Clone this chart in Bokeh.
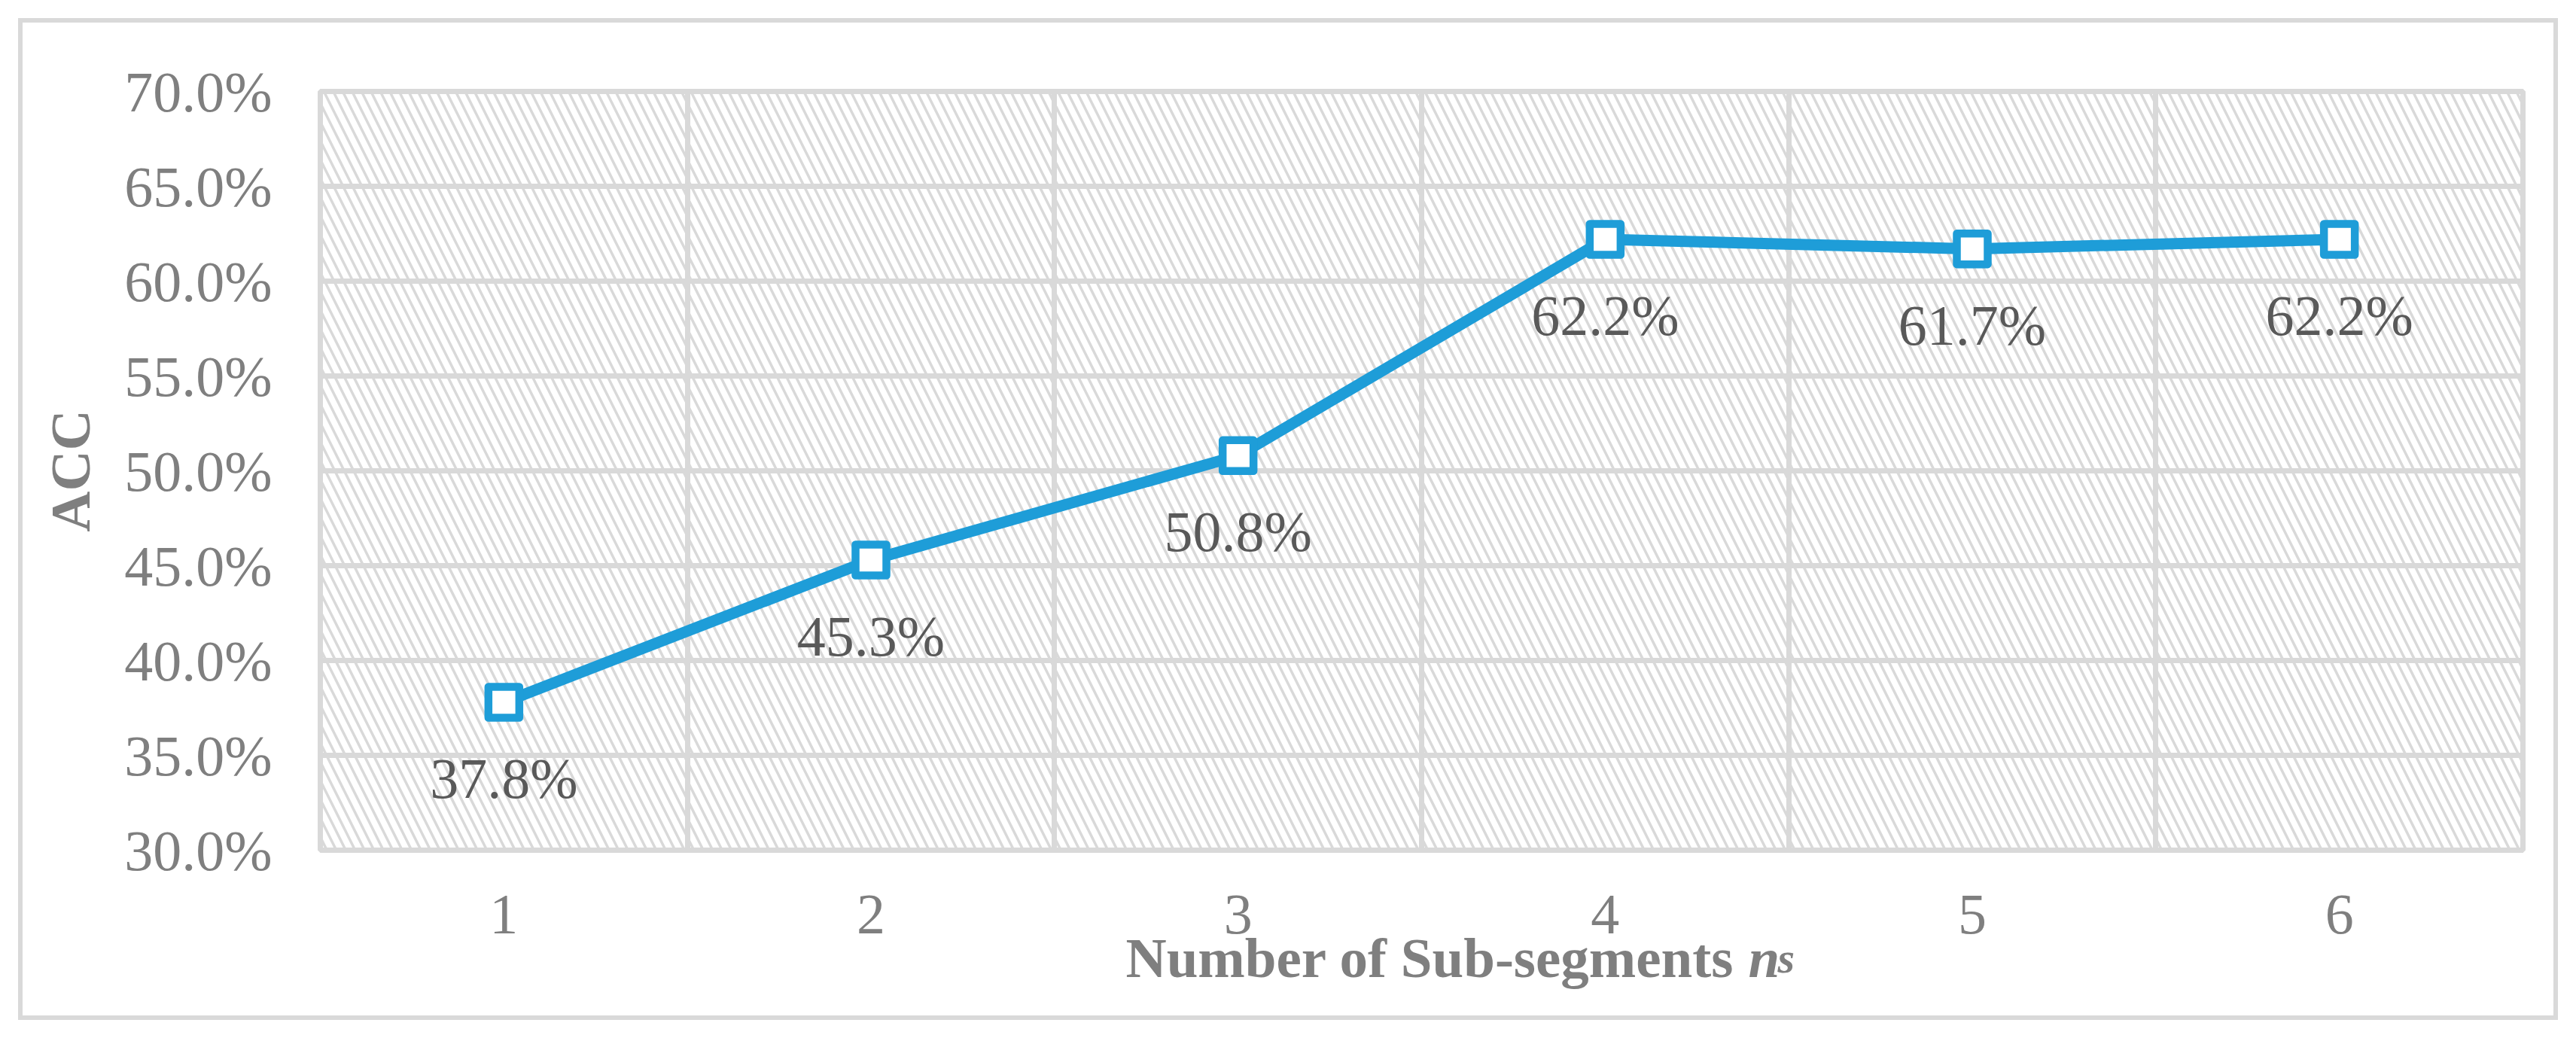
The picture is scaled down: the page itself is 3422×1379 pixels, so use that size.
from bokeh.plotting import figure
from bokeh.models import Range1d, FixedTicker, NumeralTickFormatter, BoxAnnotation, Label, InlineStyleSheet
from bokeh.core.properties import value
from bokeh.embed import file_html
from bokeh.resources import INLINE

# ---- data ----
categories = [1, 2, 3, 4, 5, 6]
tick_labels = ["1", "2", "3", "4", "5", "6"]
acc = [0.378, 0.453, 0.508, 0.622, 0.617, 0.622]
acc_labels = ["37.8%", "45.3%", "50.8%", "62.2%", "61.7%", "62.2%"]
y_ticks = [0.30, 0.35, 0.40, 0.45, 0.50, 0.55, 0.60, 0.65, 0.70]
y_title = "ACC"
x_title = "Number of Sub-segments"
x_title_var = "n"
x_title_sub = "s"

# ---- style ----
BLUE = "#1e9dd8"
GRID = "#d9d9d9"
AXIS_TXT = "#7f7f7f"
LBL_TXT = "#595959"
FONT = "Liberation Serif"

W, H = 3422, 1379
ML, MT, MR, MB = 425, 121, 71, 250
frame_w = W - ML - MR
frame_h = H - MT - MB

x0, x1 = categories[0] - 0.5, categories[-1] + 0.5
y0, y1 = y_ticks[0], y_ticks[-1]

border_css = {"outline": "6px solid #d9d9d9", "outline-offset": "-30px", "background-color": "white"}
p = figure(width=W, height=H, output_backend="svg", toolbar_location=None,
           x_range=Range1d(x0, x1), y_range=Range1d(y0, y1),
           min_border_left=ML, min_border_top=MT, min_border_right=MR, min_border_bottom=MB,
           styles=border_css,
           stylesheets=[InlineStyleSheet(css=":host { outline: 6px solid #d9d9d9 !important; "
                                             "outline-offset: -30px !important; }")])
p.background_fill_color = "white"
p.border_fill_color = None
p.outline_line_color = GRID
p.outline_line_width = 7

# hatch background of plot area
p.add_layout(BoxAnnotation(fill_color=None, line_color=None, hatch_pattern="\\",
                           hatch_color=GRID, hatch_scale=25, hatch_weight=3.5, level="image"))

# axes
p.xaxis.ticker = FixedTicker(ticks=categories)
p.xaxis.major_label_overrides = {c: t for c, t in zip(categories, tick_labels)}
p.yaxis.ticker = FixedTicker(ticks=y_ticks)
p.yaxis.formatter = NumeralTickFormatter(format="0.0%")
for ax in (p.xaxis, p.yaxis):
    ax.axis_line_color = None
    ax.major_tick_line_color = None
    ax.minor_tick_line_color = None
    ax.major_tick_in = 0
    ax.major_tick_out = 0
    ax.major_label_text_font = FONT
    ax.major_label_text_font_size = "76px"
    ax.major_label_text_color = AXIS_TXT
p.yaxis.major_label_standoff = 64
p.xaxis.major_label_standoff = 60

p.yaxis.axis_label = y_title
p.yaxis.axis_label_text_font = FONT
p.yaxis.axis_label_text_font_style = "bold"
p.yaxis.axis_label_text_font_size = "75px"
p.yaxis.axis_label_text_color = AXIS_TXT
p.yaxis.axis_label_standoff = 27

# grids
p.xgrid.ticker = FixedTicker(ticks=[c + 0.5 for c in categories[:-1]])
p.ygrid.ticker = FixedTicker(ticks=y_ticks)
for g in (p.xgrid, p.ygrid):
    g.grid_line_color = GRID
    g.grid_line_width = 7

# series
p.line(categories, acc, line_color=BLUE, line_width=15, line_join="round")
p.scatter(categories, acc, marker="square", size=41, fill_color="white",
          line_color=BLUE, line_width=10.5, line_join="round")
p.text(categories, acc, text=acc_labels, text_align="center", text_baseline="alphabetic",
       y_offset=101, text_font=value(FONT), text_font_size="76px", text_color=LBL_TXT)

# x axis title (mixed styles), placed in side panels so it is not clipped to the frame
def px_x(px):
    return x0 + (px - ML) * (x1 - x0) / frame_w

def px_y(py):
    return y0 - (py - (MT + frame_h)) * (y1 - y0) / frame_h

ty = px_y(1272)
p.add_layout(Label(x=px_x(1495), y=ty, text=x_title, text_font=FONT, text_font_style="bold",
                   text_font_size="75px", text_color=AXIS_TXT, text_align="left",
                   text_baseline="alphabetic"), "below")
p.add_layout(Label(x=px_x(2322), y=ty, text=x_title_var, text_font=FONT,
                   text_font_style="bold italic", text_font_size="75px", text_color=AXIS_TXT,
                   text_align="left", text_baseline="alphabetic"), "above")
p.add_layout(Label(x=px_x(2361), y=ty, text=x_title_sub, text_font=FONT,
                   text_font_style="bold italic", text_font_size="58px", text_color=AXIS_TXT,
                   text_align="left", text_baseline="alphabetic"), "right")

open("out.html", "w").write(file_html(p, INLINE))
